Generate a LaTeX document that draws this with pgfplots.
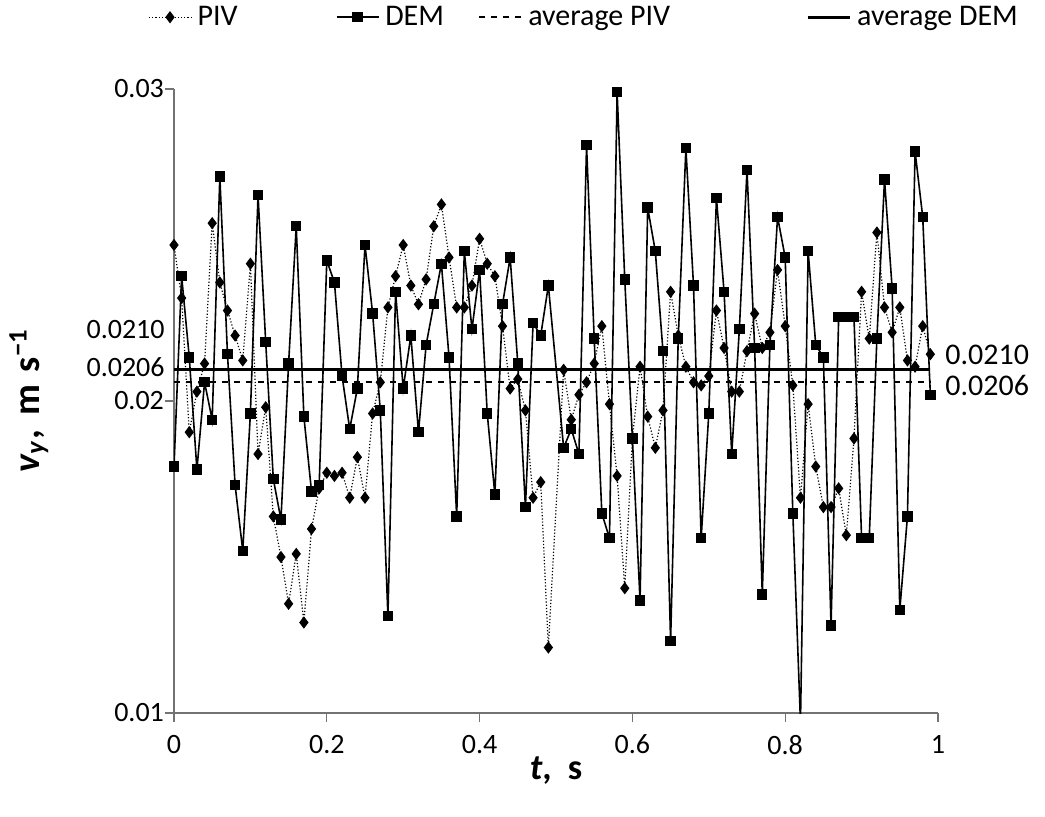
\documentclass[border=0pt]{standalone}
\usepackage{fontspec}
\setmainfont{Carlito}
\usepackage{pgfplots}
\pgfplotsset{compat=1.18}
\usepackage{pgfplotstable}

\pgfplotstableread{
t v
0.00 0.0250
0.01 0.0233
0.02 0.0190
0.03 0.0203
0.04 0.0212
0.05 0.0257
0.06 0.0238
0.07 0.0229
0.08 0.0221
0.09 0.0213
0.10 0.0244
0.11 0.0183
0.12 0.0198
0.13 0.0163
0.14 0.0150
0.15 0.0135
0.16 0.0151
0.17 0.0129
0.18 0.0159
0.19 0.0172
0.20 0.0177
0.21 0.0176
0.22 0.0177
0.23 0.0169
0.24 0.0182
0.25 0.0169
0.26 0.0196
0.27 0.0206
0.28 0.0230
0.29 0.0240
0.30 0.0250
0.31 0.0237
0.32 0.0231
0.33 0.0239
0.34 0.0256
0.35 0.0263
0.36 0.0246
0.37 0.0230
0.38 0.0230
0.39 0.0237
0.40 0.0252
0.41 0.0244
0.42 0.0240
0.43 0.0224
0.44 0.0204
0.45 0.0207
0.46 0.0197
0.47 0.0169
0.48 0.0174
0.49 0.0121
0.51 0.0210
0.52 0.0194
0.53 0.0202
0.54 0.0206
0.55 0.0212
0.56 0.0224
0.57 0.0199
0.58 0.0176
0.59 0.0140
0.60 0.0188
0.61 0.0211
0.62 0.0195
0.63 0.0185
0.64 0.0197
0.65 0.0235
0.66 0.0221
0.67 0.0211
0.68 0.0206
0.69 0.0205
0.70 0.0208
0.71 0.0229
0.72 0.0217
0.73 0.0203
0.74 0.0203
0.75 0.0216
0.76 0.0228
0.77 0.0217
0.78 0.0222
0.79 0.0242
0.80 0.0224
0.81 0.0205
0.82 0.0169
0.83 0.0199
0.84 0.0179
0.85 0.0166
0.86 0.0166
0.87 0.0172
0.88 0.0157
0.89 0.0188
0.90 0.0235
0.91 0.0220
0.92 0.0254
0.93 0.0230
0.94 0.0222
0.95 0.0230
0.96 0.0213
0.97 0.0211
0.98 0.0224
0.99 0.0215
}\piv

\pgfplotstableread{
t v
0.00 0.0179
0.01 0.0240
0.02 0.0214
0.03 0.0178
0.04 0.0206
0.05 0.0194
0.06 0.0272
0.07 0.0215
0.08 0.0173
0.09 0.0152
0.10 0.0196
0.11 0.0266
0.12 0.0219
0.13 0.0175
0.14 0.0162
0.15 0.0212
0.16 0.0256
0.17 0.0195
0.18 0.0171
0.19 0.0173
0.20 0.0245
0.21 0.0238
0.22 0.0208
0.23 0.0191
0.24 0.0204
0.25 0.0250
0.26 0.0228
0.27 0.0197
0.28 0.0131
0.29 0.0235
0.30 0.0204
0.31 0.0221
0.32 0.0190
0.33 0.0218
0.34 0.0231
0.35 0.0244
0.36 0.0214
0.37 0.0163
0.38 0.0248
0.39 0.0223
0.40 0.0242
0.41 0.0196
0.42 0.0170
0.43 0.0231
0.44 0.0246
0.45 0.0212
0.46 0.0166
0.47 0.0225
0.48 0.0221
0.49 0.0237
0.51 0.0185
0.52 0.0191
0.53 0.0183
0.54 0.0282
0.55 0.0220
0.56 0.0164
0.57 0.0156
0.58 0.0299
0.59 0.0239
0.60 0.0188
0.61 0.0136
0.62 0.0262
0.63 0.0248
0.64 0.0216
0.65 0.0123
0.66 0.0220
0.67 0.0281
0.68 0.0237
0.69 0.0156
0.70 0.0196
0.71 0.0265
0.72 0.0235
0.73 0.0183
0.74 0.0223
0.75 0.0274
0.76 0.0217
0.77 0.0138
0.78 0.0218
0.79 0.0259
0.80 0.0246
0.81 0.0164
0.82 0.0097
0.83 0.0248
0.84 0.0218
0.85 0.0214
0.86 0.0128
0.87 0.0227
0.88 0.0227
0.89 0.0227
0.90 0.0156
0.91 0.0156
0.92 0.0220
0.93 0.0271
0.94 0.0236
0.95 0.0133
0.96 0.0163
0.97 0.0280
0.98 0.0259
0.99 0.0202
}\dem

\begin{document}
\begin{tikzpicture}
\useasboundingbox (-87pt,-51.5pt) rectangle (435.5pt,356.5pt);
\begin{axis}[
  at={(0,0)}, anchor=south west,
  scale only axis, width=382pt, height=312pt,
  xmin=0, xmax=1, ymin=0.01, ymax=0.03,
  scaled y ticks=false, scaled x ticks=false,
  axis x line*=bottom, axis y line*=left,
  axis line style={black!55, line width=0.6pt},
  tick style={black!55, line width=0.6pt},
  tick align=outside, major tick length=4.5pt,
  xtick={0,0.2,0.4,0.6,0.8,1},
  xticklabels={0,0.2,0.4,0.6,0.8,1},
  ytick={0.01,0.02,0.03},
  yticklabels={0.01,0.02,0.03},
  ticklabel style={font=\fontsize{14}{16}\selectfont},
  x tick label style={yshift=-3pt},
  y tick label style={xshift=3pt},
  clip mode=individual,
  xlabel={\textbf{\textit{t},\hspace{4pt} s}},
  ylabel={\textbf{\textit{v}\textsubscript{\textit{y}},\hspace{3pt} m\hspace{2pt} s\textsuperscript{−1}}},
  xlabel style={font=\fontsize{18}{20}\selectfont, at={(axis description cs:0.5,-0.093)}, anchor=center},
  ylabel style={font=\fontsize{19}{21}\selectfont, at={(axis description cs:-0.19,0.5)}, anchor=center},
  legend columns=4,
  legend style={at={(axis description cs:-0.034,1.115)}, anchor=west, draw=none, fill=none,
    font=\fontsize{15}{17}\selectfont, inner sep=0pt,
    /tikz/column 2/.style={column sep=47pt},
    /tikz/column 4/.style={column sep=15pt},
    /tikz/column 6/.style={column sep=66pt},
    /tikz/every odd column/.append style={column sep=1pt}},
  legend image code/.code={\draw[#1] (0pt,0pt) -- (21pt,0pt);
     \draw[#1, mark repeat=1, solid] plot coordinates {(10.5pt,0pt)};},
]
\addplot[black, line width=0.6pt, densely dotted, mark=diamond*, mark size=2.6pt, mark options={solid}] table[x=t,y=v] {\piv};
\addlegendentry{PIV}
\addplot[black, line width=0.8pt, mark=square*, mark size=2.2pt, mark options={solid}] table[x=t,y=v] {\dem};
\addlegendentry{DEM}
\addplot[black, line width=1.1pt, dashed, mark=none] coordinates {(0,0.0206) (0.99,0.0206)};
\addlegendentry{average PIV}
\addplot[black, line width=1.5pt, mark=none] coordinates {(0,0.0210) (0.99,0.0210)};
\addlegendentry{average DEM}
\end{axis}
\node[anchor=east, inner sep=0pt, font=\fontsize{14}{16}\selectfont] at (-4.5pt,191.5pt) {0.0210};
\node[anchor=east, inner sep=0pt, font=\fontsize{14}{16}\selectfont] at (-4.5pt,173pt) {0.0206};
\node[anchor=west, inner sep=0pt, font=\fontsize{15}{17}\selectfont] at (385.5pt,179pt) {0.0210};
\node[anchor=west, inner sep=0pt, font=\fontsize{15}{17}\selectfont] at (385.5pt,164pt) {0.0206};
\end{tikzpicture}
\end{document}
